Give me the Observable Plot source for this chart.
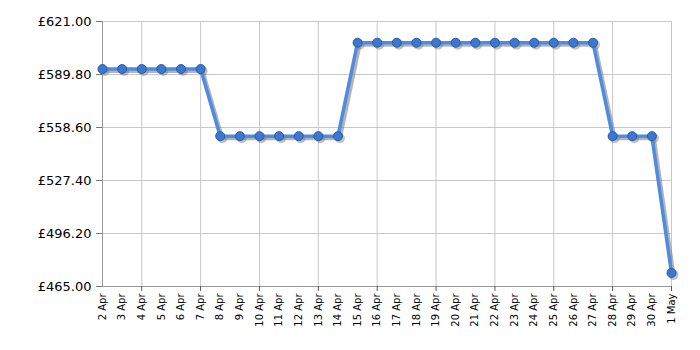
<!DOCTYPE html>
<html>
<head>
<meta charset="utf-8">
<script src="https://cdn.jsdelivr.net/npm/d3@7"></script>
<script src="https://cdn.jsdelivr.net/npm/@observablehq/plot@0.6"></script>
<style>
  html, body { margin: 0; padding: 0; background: #fff; }
  #chart svg { display: block; }
</style>
</head>
<body>
<div id="chart"></div>
<script>
const dates = [
  "2024-04-02","2024-04-03","2024-04-04","2024-04-05","2024-04-06","2024-04-07",
  "2024-04-08","2024-04-09","2024-04-10","2024-04-11","2024-04-12","2024-04-13","2024-04-14",
  "2024-04-15","2024-04-16","2024-04-17","2024-04-18","2024-04-19","2024-04-20","2024-04-21",
  "2024-04-22","2024-04-23","2024-04-24","2024-04-25","2024-04-26","2024-04-27",
  "2024-04-28","2024-04-29","2024-04-30","2024-05-01"
];
const prices = [
  593.0, 593.0, 593.0, 593.0, 593.0, 593.0,
  553.5, 553.5, 553.5, 553.5, 553.5, 553.5, 553.5,
  608.5, 608.5, 608.5, 608.5, 608.5, 608.5, 608.5,
  608.5, 608.5, 608.5, 608.5, 608.5, 608.5,
  553.5, 553.5, 553.5, 473.0
];
const yTicks = [465.00, 496.20, 527.40, 558.60, 589.80, 621.00];
const gridDates = ["2024-04-04","2024-04-07","2024-04-10","2024-04-13","2024-04-16","2024-04-19",
  "2024-04-22","2024-04-25","2024-04-28","2024-05-01"];

const parse = d3.utcParse("%Y-%m-%d");
const data = dates.map((d, i) => ({date: parse(d), price: prices[i]}));
const allX = dates.map(parse);
const gridX = gridDates.map(parse);
const fmtDate = d3.utcFormat("%-d %b");

const chart = Plot.plot({
  width: 700,
  height: 350,
  marginLeft: 102,
  marginRight: 29,
  marginTop: 21,
  marginBottom: 64,
  style: {fontFamily: "'DejaVu Sans', Verdana, sans-serif", background: "#fff", color: "#000"},
  x: {type: "utc", domain: [allX[0], allX[allX.length - 1]], label: null},
  y: {domain: [465, 621], label: null},
  marks: [
    Plot.gridX(gridX, {stroke: "#c8c8c8", strokeOpacity: 1}),
    Plot.gridY(yTicks, {stroke: "#c8c8c8", strokeOpacity: 1}),
    Plot.ruleX([allX[0]], {stroke: "#999"}),
    Plot.ruleY([465], {stroke: "#999"}),
    Plot.axisY(yTicks, {tickSize: 6, tickPadding: 5, fontSize: 13, stroke: "#777", label: null,
      tickFormat: d => "£" + d.toFixed(2)}),
    Plot.axisX(allX, {tickSize: 0, tickPadding: 7, tickRotate: -90, fontSize: 10, label: null,
      tickFormat: fmtDate}),
    Plot.axisX(gridX, {tickSize: 5, stroke: "#555", label: null, tickFormat: () => ""}),
    Plot.line(data, {x: "date", y: "price", stroke: "#777", strokeOpacity: 0.55, strokeWidth: 4, dx: 2, dy: 2}),
    Plot.dot(data, {x: "date", y: "price", r: 5, fill: "#777", fillOpacity: 0.45, dx: 2, dy: 2}),
    Plot.line(data, {x: "date", y: "price", stroke: "#4f8be0", strokeWidth: 3.5}),
    Plot.dot(data, {x: "date", y: "price", r: 4.5, fill: "#3b78d2", stroke: "#2a5aa5", strokeWidth: 1})
  ]
});
document.getElementById("chart").appendChild(chart);
</script>
</body>
</html>
